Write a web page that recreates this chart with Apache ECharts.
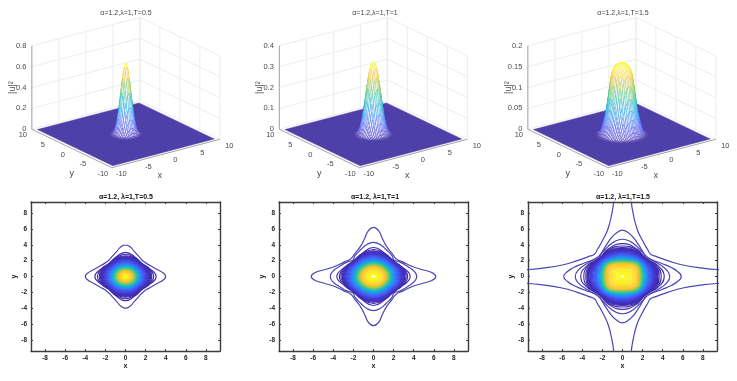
<!DOCTYPE html>
<html>
<head>
<meta charset="utf-8" />
<title>alpha=1.2 surfaces and contours</title>
<style>
  html, body { margin: 0; padding: 0; background: #fff; }
  #main { width: 737px; height: 381px; }
  #main canvas { filter: blur(0.35px); }
</style>
<script src="https://cdn.jsdelivr.net/npm/echarts@6/dist/echarts.min.js"></script>
</head>
<body>
<div id="main"></div>
<script>
// ========== data ==========
const topTitles = ["α=1.2,λ=1,T=0.5", "α=1.2,λ=1,T=1", "α=1.2,λ=1,T=1.5"];
const bottomTitles = ["α=1.2, λ=1,T=0.5", "α=1.2, λ=1,T=1", "α=1.2, λ=1,T=1.5"];
const xyTicks = [-10, -5, 0, 5, 10];
const contourTicks = [-8, -6, -4, -2, 0, 2, 4, 6, 8];
const zTicksT05 = [0, 0.2, 0.4, 0.6, 0.8];
const zTicksT10 = [0, 0.1, 0.2, 0.3, 0.4];
const zTicksT15 = [0, 0.05, 0.1, 0.15, 0.2];

// |u|^2 read at x,y = 0, 0.25, 0.5 ... (row is the larger of |x|,|y|, column the smaller)
const surfaceT05 = [
  [0.684],
  [0.645, 0.608],
  [0.542, 0.511, 0.429],
  [0.405, 0.382, 0.321, 0.24],
  [0.27, 0.255, 0.214, 0.16, 0.107],
  [0.16, 0.151, 0.127, 0.095, 0.063, 0.037],
  [0.084, 0.079, 0.067, 0.05, 0.033, 0.02, 0.0104],
  [0.039, 0.037, 0.031, 0.023, 0.016, 0.0093, 0.0049, 0.0023],
  [0.016, 0.016, 0.013, 0.0098, 0.0065, 0.0039, 0.002, 0.001, 0.0004],
  [0.0062, 0.0058, 0.0049, 0.0036, 0.0024, 0.0014, 0.0008, 0.0004, 0.0002, 0.0001],
  [0.002, 0.0019, 0.0016, 0.0012, 0.0008, 0.0005, 0.0003, 0.0001, 0.0001, 0, 0],
];
const surfaceT10 = [
  [0.347],
  [0.34, 0.332],
  [0.32, 0.307, 0.282],
  [0.274, 0.265, 0.241, 0.204],
  [0.225, 0.212, 0.191, 0.16, 0.125],
  [0.16, 0.155, 0.139, 0.116, 0.089, 0.063],
  [0.107, 0.104, 0.093, 0.076, 0.059, 0.041, 0.026],
  [0.065, 0.063, 0.056, 0.046, 0.034, 0.023, 0.015, 0.0088],
  [0.036, 0.034, 0.031, 0.024, 0.018, 0.0125, 0.0078, 0.0043, 0.002],
  [0.0175, 0.017, 0.015, 0.012, 0.009, 0.006, 0.0036, 0.0018, 0.0009, 0.0003],
  [0.0078, 0.0075, 0.0065, 0.0052, 0.0038, 0.0024, 0.0013, 0.0007, 0.0003, 0.0002, 0.0001],
  [0.003, 0.0029, 0.0024, 0.0018, 0.0013, 0.0008, 0.0005, 0.0002, 0.0001, 0.0001, 0, 0],
];
const surfaceT15 = [
  [0.171],
  [0.17, 0.17],
  [0.169, 0.168, 0.167],
  [0.167, 0.166, 0.165, 0.163],
  [0.164, 0.163, 0.161, 0.157, 0.15],
  [0.157, 0.156, 0.153, 0.147, 0.138, 0.12],
  [0.145, 0.144, 0.14, 0.13, 0.115, 0.097, 0.078],
  [0.122, 0.12, 0.113, 0.103, 0.09, 0.075, 0.059, 0.046],
  [0.092, 0.09, 0.085, 0.076, 0.066, 0.054, 0.044, 0.033, 0.024],
  [0.065, 0.064, 0.059, 0.053, 0.047, 0.039, 0.031, 0.023, 0.016, 0.0095],
  [0.044, 0.043, 0.04, 0.036, 0.032, 0.025, 0.019, 0.014, 0.009, 0.0055, 0.003],
  [0.028, 0.028, 0.025, 0.023, 0.019, 0.015, 0.011, 0.0078, 0.005, 0.0027, 0.0015, 0.0009],
  [0.016, 0.016, 0.015, 0.012, 0.01, 0.008, 0.0055, 0.004, 0.0022, 0.0013, 0.0008, 0.0004, 0.0002],
  [0.008, 0.0078, 0.007, 0.006, 0.005, 0.004, 0.0025, 0.0018, 0.0011, 0.0007, 0.0003, 0.0002, 0.0001, 0],
  [0.003, 0.003, 0.003, 0.0025, 0.002, 0.0015, 0.0011, 0.0008, 0.0004, 0.0003, 0.0002, 0.0001, 0, 0, 0],
];

// outer contour lines, one eighth of each: from the x axis to the diagonal
const outerT05 = [
  [[4, 0], [3.75, 0.45], [3.2, 0.85], [2.5, 1.35], [1.85, 1.85]],
];
const outerT10 = [
  [[6.2, 0], [5.8, 0.5], [4.9, 0.85], [3.8, 1.3], [2.9, 1.85], [2.25, 2.25]],
  [[4.3, 0], [4.05, 0.65], [3.4, 1.25], [2.6, 1.85], [2.05, 2.05]],
];
const outerT15 = [
  [[16, 0], [13, 0.7], [9.4, 0.88], [8, 1.05], [6, 1.45], [4.5, 2], [3.4, 2.5], [2.8, 2.8]],
  [[5.85, 0], [5.5, 0.6], [4.9, 1.1], [3.8, 1.7], [2.45, 2.45]],
  [[4.7, 0], [4.4, 0.8], [3.7, 1.5], [2.9, 2.1], [2.35, 2.35]],
];

// inner contours: [share of peak, radius at 0deg, radius at 22.5deg, radius at 45deg]
const ringsT05 = [
  [0.003, 3.05, 2.6, 2.33], [0.006, 2.8, 2.52, 2.3], [0.012, 2.62, 2.46, 2.27],
  [0.02, 2.5, 2.4, 2.22], [0.03, 2.4, 2.33, 2.16], [0.04, 2.3, 2.24, 2.09],
  [0.05, 2.2, 2.14, 2.03], [0.07, 2.1, 2.05, 1.96], [0.1, 2, 1.96, 1.89],
  [0.12, 1.9, 1.87, 1.81], [0.15, 1.8, 1.77, 1.73], [0.19, 1.7, 1.68, 1.64],
  [0.23, 1.6, 1.58, 1.55], [0.28, 1.5, 1.48, 1.46], [0.34, 1.4, 1.38, 1.36],
  [0.4, 1.3, 1.28, 1.26], [0.46, 1.2, 1.18, 1.17], [0.53, 1.1, 1.09, 1.08],
  [0.6, 1, 1, 0.99], [0.67, 0.9, 0.9, 0.9], [0.74, 0.8, 0.8, 0.8],
  [0.8, 0.7, 0.7, 0.7], [0.85, 0.6, 0.6, 0.6], [0.88, 0.5, 0.5, 0.5],
  [0.91, 0.4, 0.4, 0.4], [0.94, 0.3, 0.3, 0.3], [0.97, 0.2, 0.2, 0.2],
  [0.99, 0.1, 0.1, 0.1],
];
const ringsT10 = [
  [0.004, 3.65, 3.1, 2.8], [0.008, 3.4, 3.05, 2.78], [0.015, 3.25, 3, 2.74],
  [0.025, 3.12, 2.93, 2.7], [0.035, 3.02, 2.86, 2.65], [0.05, 2.92, 2.8, 2.6],
  [0.065, 2.82, 2.72, 2.54], [0.085, 2.72, 2.64, 2.48], [0.11, 2.62, 2.56, 2.42],
  [0.14, 2.52, 2.46, 2.35], [0.17, 2.42, 2.38, 2.28], [0.2, 2.32, 2.28, 2.2],
  [0.24, 2.22, 2.19, 2.12], [0.28, 2.12, 2.09, 2.03], [0.33, 2.02, 1.99, 1.94],
  [0.38, 1.92, 1.89, 1.85], [0.44, 1.82, 1.79, 1.76], [0.5, 1.72, 1.7, 1.67],
  [0.56, 1.62, 1.6, 1.58], [0.63, 1.52, 1.5, 1.48], [0.7, 1.42, 1.4, 1.38],
  [0.76, 1.32, 1.3, 1.29], [0.82, 1.22, 1.21, 1.2], [0.86, 1.1, 1.1, 1.1],
  [0.89, 0.98, 0.98, 0.98], [0.92, 0.86, 0.86, 0.86], [0.94, 0.74, 0.74, 0.74],
  [0.96, 0.62, 0.62, 0.62], [0.975, 0.5, 0.5, 0.5], [0.985, 0.38, 0.38, 0.38],
  [0.995, 0.26, 0.26, 0.26],
];
const ringsT15 = [
  [0.002, 4.15, 3.75, 3.25], [0.005, 3.85, 3.65, 3.22], [0.01, 3.65, 3.55, 3.2],
  [0.016, 3.52, 3.45, 3.18], [0.024, 3.42, 3.37, 3.14], [0.034, 3.33, 3.29, 3.1],
  [0.046, 3.24, 3.2, 3.05], [0.06, 3.15, 3.12, 3], [0.08, 3.06, 3.04, 2.95],
  [0.1, 2.97, 2.95, 2.9], [0.125, 2.88, 2.86, 2.85], [0.15, 2.79, 2.78, 2.79],
  [0.18, 2.7, 2.7, 2.73], [0.21, 2.61, 2.62, 2.67], [0.25, 2.52, 2.54, 2.61],
  [0.29, 2.43, 2.46, 2.55], [0.33, 2.34, 2.38, 2.49], [0.38, 2.25, 2.3, 2.43],
  [0.43, 2.16, 2.22, 2.36], [0.49, 2.07, 2.14, 2.29], [0.55, 1.98, 2.06, 2.22],
  [0.61, 1.89, 1.98, 2.15], [0.67, 1.8, 1.9, 2.07], [0.74, 1.71, 1.82, 1.98],
  [0.8, 1.62, 1.72, 1.88], [0.85, 1.5, 1.6, 1.75], [0.88, 1.38, 1.48, 1.6],
  [0.9, 1.26, 1.35, 1.45], [0.92, 1.14, 1.2, 1.3], [0.94, 1, 1.05, 1.12],
  [0.96, 0.85, 0.88, 0.95], [0.975, 0.7, 0.72, 0.78], [0.985, 0.55, 0.56, 0.6],
  [0.995, 0.4, 0.4, 0.42], [0.998, 0.25, 0.25, 0.26],
];

// ========== colours ==========
const parula = [
  [62, 38, 168], [72, 82, 244], [45, 135, 247], [18, 177, 214],
  [55, 200, 151], [171, 199, 57], [254, 195, 56], [249, 251, 21],
];
const floorRgb = [79, 63, 168];

function mixRgb(a, b, t) {
  return a.map((v, i) => v + (b[i] - v) * t);
}

function toCss(c) {
  return "rgb(" + c.map((v) => Math.round(v)).join(",") + ")";
}

function parulaAt(t) {
  const p = Math.min(Math.max(t, 0), 1) * (parula.length - 1);
  const i = Math.min(Math.floor(p), parula.length - 2);
  return mixRgb(parula[i], parula[i + 1], p - i);
}

// ========== 3D projection, result is in units of the hidden axes ==========
function project(x, y, z, zMax) {
  return [5.4 * x - 4.0 * y, 1.42 * x + 1.92 * y + (83.5 * z) / zMax];
}

function surfaceAt(table, i, j) {
  const a = Math.max(Math.abs(i), Math.abs(j));
  const b = Math.min(Math.abs(i), Math.abs(j));
  return a < table.length ? table[a][b] : 0;
}

// ========== surface panel ==========
function surfacePanelSeries(index, table, zTicks) {
  const zMax = zTicks[zTicks.length - 1];
  const peak = table[0][0];
  const step = 0.25;
  const pad = table.length;
  const edge = 9.4;
  const axisRefs = { coordinateSystem: "cartesian2d", xAxisIndex: index, yAxisIndex: index };
  const base = Object.assign({ type: "custom", silent: true, clip: false, progressive: 0 }, axisRefs);

  // walls and axes
  const walls = [];
  xyTicks.forEach((t) => {
    walls.push([[t, 10, 0], [t, 10, zMax]]);
    walls.push([[10, t, 0], [10, t, zMax]]);
  });
  zTicks.forEach((t) => {
    walls.push([[-10, 10, t], [10, 10, t]]);
    walls.push([[10, 10, t], [10, -10, t]]);
  });
  const axesLines = [
    [[-10, 10, 0], [-10, 10, zMax]],
    [[-10, -10, 0], [10, -10, 0]],
    [[-10, -10, 0], [-10, 10, 0]],
  ];
  const segmentItem = (list, color, width) => (params, api) => {
    const s = list[params.dataIndex];
    const a = api.coord(project(s[0][0], s[0][1], s[0][2], zMax));
    const b = api.coord(project(s[1][0], s[1][1], s[1][2], zMax));
    return {
      type: "line",
      shape: { x1: a[0], y1: a[1], x2: b[0], y2: b[1] },
      style: { stroke: color, lineWidth: width },
    };
  };

  // mesh cells, far corner first so that near cells cover them
  const cells = [];
  for (let i = -pad; i < pad; i++) {
    for (let j = -pad; j < pad; j++) cells.push([i, j]);
  }
  cells.sort((p, q) => 1.42 * q[0] + 1.92 * q[1] - (1.42 * p[0] + 1.92 * p[1]));

  const floorItem = (params, api) => {
    const corners = [[-edge, -edge], [edge, -edge], [edge, edge], [-edge, edge]];
    return {
      type: "polygon",
      shape: { points: corners.map((c) => api.coord(project(c[0], c[1], 0, zMax))) },
      style: { fill: toCss(floorRgb), stroke: toCss(floorRgb), lineWidth: 0.5 },
    };
  };

  const cellItem = (params, api) => {
    const c = cells[params.dataIndex];
    const corners = [[c[0], c[1]], [c[0] + 1, c[1]], [c[0] + 1, c[1] + 1], [c[0], c[1] + 1]];
    let sum = 0;
    const points = corners.map((k) => {
      const z = surfaceAt(table, k[0], k[1]);
      sum += z;
      return api.coord(project(k[0] * step, k[1] * step, z, zMax));
    });
    const t = sum / 4 / peak;
    const pale = Math.min(t / 0.03, 1);
    return {
      type: "polygon",
      shape: { points: points },
      style: {
        fill: toCss(mixRgb(floorRgb, [250, 250, 255], pale)),
        stroke: toCss(mixRgb(floorRgb, parulaAt(t * 1.05), pale)),
        lineWidth: 0.4,
      },
    };
  };

  // text on the box
  const labels = [];
  xyTicks.forEach((t) => {
    labels.push({ at: [t, -10, 0], dx: 9.5, dy: 6.5, text: String(t) });
    labels.push({ at: [-10, t, 0], dx: -9, dy: 6, text: String(t) });
  });
  zTicks.forEach((t) => {
    labels.push({ at: [-10, 10, t], dx: -5.5, dy: 0, text: String(t), align: "right" });
  });
  labels.push({ at: [0, -10, 0], dx: -6, dy: 22.5, text: "x", size: 9 });
  labels.push({ at: [-10, 0, 0], dx: 0, dy: 25.5, text: "y", size: 9 });
  labels.push({ at: [-10, 10, zMax / 2], dx: -19.5, dy: 0, text: "|u|²", size: 9, rotation: Math.PI / 2 });

  const labelItem = (params, api) => {
    const l = labels[params.dataIndex];
    const p = api.coord(project(l.at[0], l.at[1], l.at[2], zMax));
    return {
      type: "text",
      x: p[0] + l.dx,
      y: p[1] + l.dy,
      rotation: l.rotation || 0,
      style: {
        text: l.text,
        textAlign: l.align || "center",
        textVerticalAlign: "middle",
        fontFamily: "Liberation Sans",
        fontSize: l.size || 7.5,
        fill: "#4a4a4a",
      },
    };
  };

  return [
    Object.assign({}, base, { z: 2, renderItem: segmentItem(walls, "#e9e9e9", 0.8), data: walls.map((s, i) => [i]) }),
    Object.assign({}, base, { z: 3, renderItem: floorItem, data: [[0]] }),
    Object.assign({}, base, { z: 4, renderItem: segmentItem(axesLines, "#a4a4a4", 1), data: axesLines.map((s, i) => [i]) }),
    Object.assign({}, base, { z: 5, renderItem: cellItem, data: cells.map((s, i) => [i]) }),
    Object.assign({}, base, { z: 6, renderItem: labelItem, data: labels.map((s, i) => [i]) }),
  ];
}

// ========== contour panel ==========
function closeLoop(octant) {
  const quadrant = octant.slice();
  for (let i = octant.length - 2; i > 0; i--) quadrant.push([octant[i][1], octant[i][0]]);
  const loop = [];
  [[1, 0], [0, 1], [-1, 0], [0, -1]].forEach((r) => {
    quadrant.forEach((p) => loop.push([p[0] * r[0] - p[1] * r[1], p[0] * r[1] + p[1] * r[0]]));
  });
  // run over the start point so the smoothing has no visible seam
  return [loop[loop.length - 1]].concat(loop, [loop[0], loop[1]]);
}

function ringOctant(ring) {
  const c = Math.cos(Math.PI / 8);
  const s = Math.sin(Math.PI / 8);
  const d = Math.SQRT1_2;
  return [[ring[1], 0], [ring[2] * c, ring[2] * s], [ring[3] * d, ring[3] * d]];
}

function contourPanelSeries(axisIndex, outer, rings) {
  const series = [];
  const line = (octant, color, width) => ({
    type: "line",
    xAxisIndex: axisIndex,
    yAxisIndex: axisIndex,
    data: closeLoop(octant),
    showSymbol: false,
    symbol: "none",
    smooth: 0.5,
    silent: true,
    lineStyle: { color: color, width: width },
  });
  outer.forEach((o) => series.push(line(o, "#4b45b4", 1.2)));
  rings.forEach((r, i) => series.push(line(ringOctant(r), toCss(parulaAt(r[0])), i < 3 ? 1.1 : 1.5)));
  return series;
}

// ========== options ==========
const panels = [
  { shift: 0, titleX: 126, boxLeft: 31, table: surfaceT05, zTicks: zTicksT05, outer: outerT05, rings: ringsT05 },
  { shift: 247.5, titleX: 375, boxLeft: 279, table: surfaceT10, zTicks: zTicksT10, outer: outerT10, rings: ringsT10 },
  { shift: 496, titleX: 623, boxLeft: 528, table: surfaceT15, zTicks: zTicksT15, outer: outerT15, rings: ringsT15 },
];

const grids = [];
const xAxes = [];
const yAxes = [];
const titles = [];
const allSeries = [];

const hiddenAxis = (min, max, gridIndex) => ({ type: "value", min: min, max: max, show: false, gridIndex: gridIndex });

panels.forEach((p, k) => {
  grids.push({ left: p.shift, top: 0, width: 241, height: 190 });
  xAxes.push(hiddenAxis(-125.85, 115.15, k));
  yAxes.push(hiddenAxis(-55.7, 134.3, k));
  titles.push({
    text: topTitles[k],
    left: p.titleX,
    top: 9.5,
    padding: 0,
    textAlign: "center",
    textStyle: { fontFamily: "Liberation Sans", fontSize: 7, fontWeight: "normal", color: "#444" },
  });
  titles.push({
    text: bottomTitles[k],
    left: p.titleX,
    top: 193.5,
    padding: 0,
    textAlign: "center",
    textStyle: { fontFamily: "Liberation Sans", fontSize: 7, fontWeight: "bold", color: "#111" },
  });
  allSeries.push(...surfacePanelSeries(k, p.table, p.zTicks));
});

const frameLine = { onZero: false, lineStyle: { color: "#3c3c3c", width: 1.4 } };
const contourAxis = (gridIndex, position, name, labelled) => ({
  type: "value",
  gridIndex: gridIndex,
  position: position,
  min: -9.4,
  max: 9.4,
  name: labelled ? name : "",
  nameLocation: "middle",
  nameGap: position === "bottom" ? 11 : 12,
  nameTextStyle: { fontFamily: "Liberation Sans", fontSize: 7, fontWeight: "bold", color: "#222" },
  splitLine: { show: false },
  axisLine: frameLine,
  axisTick: { show: true, inside: true, length: 2, customValues: contourTicks, lineStyle: { color: "#3c3c3c", width: 1 } },
  axisLabel: {
    show: labelled,
    customValues: contourTicks,
    margin: 4,
    fontFamily: "Liberation Sans",
    fontSize: 6.5,
    fontWeight: "bold",
    color: "#222",
  },
});

panels.forEach((p, k) => {
  const gridIndex = grids.length;
  grids.push({ left: p.boxLeft, top: 202, width: 189, height: 149 });
  const axisIndex = xAxes.length;
  xAxes.push(contourAxis(gridIndex, "bottom", "x", true), contourAxis(gridIndex, "top", "", false));
  yAxes.push(contourAxis(gridIndex, "left", "y", true), contourAxis(gridIndex, "right", "", false));
  allSeries.push(...contourPanelSeries(axisIndex, p.outer, p.rings));
});

const chart = echarts.init(document.getElementById("main"));
chart.setOption({
  animation: false,
  backgroundColor: "#fff",
  title: titles,
  grid: grids,
  xAxis: xAxes,
  yAxis: yAxes,
  series: allSeries,
});
</script>
</body>
</html>
